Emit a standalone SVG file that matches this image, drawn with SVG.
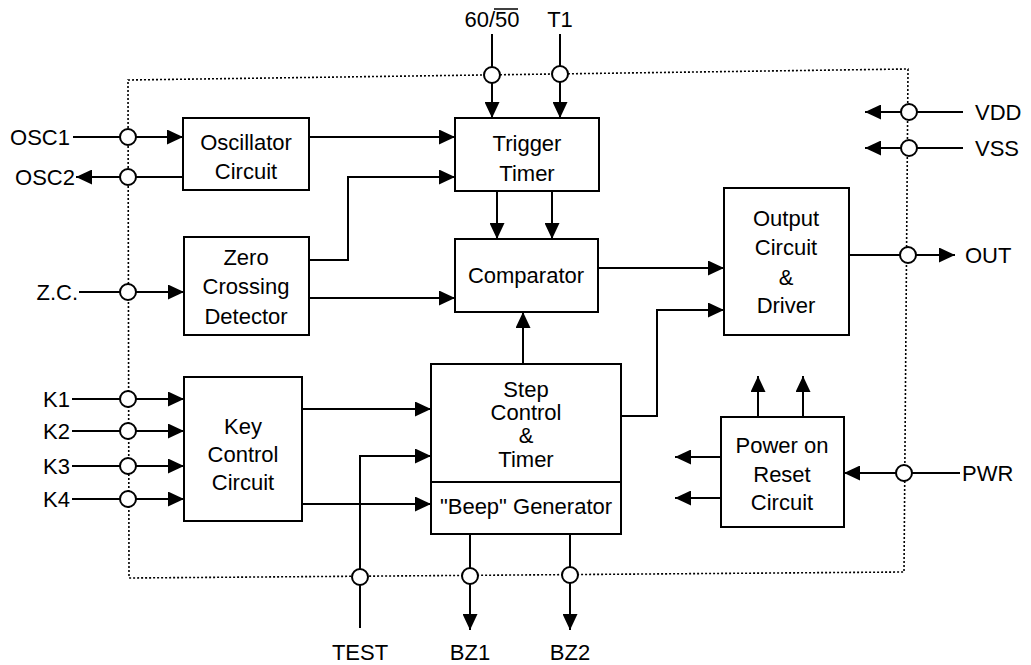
<svg xmlns="http://www.w3.org/2000/svg" width="1031" height="665" viewBox="0 0 1031 665">
<defs>
<marker id="arr" markerUnits="userSpaceOnUse" markerWidth="17" markerHeight="15" refX="16" refY="7.5" orient="auto">
<path d="M0,0 L16,7.5 L0,15 z" fill="#000"/>
</marker>
<style>
.bx{fill:#fff;stroke:#000;stroke-width:2}
.ln{fill:none;stroke:#000;stroke-width:2}
.ar{fill:none;stroke:#000;stroke-width:2;marker-end:url(#arr)}
.pin{fill:#fff;stroke:#000;stroke-width:2}
.fr{fill:none;stroke:#000;stroke-width:1.6;stroke-dasharray:2 2}
text{font-family:"Liberation Sans",Arial,sans-serif;font-size:22px;fill:#000}
.c{text-anchor:middle}
.e{text-anchor:end}
</style>
</defs>
<rect width="1031" height="665" fill="#fff"/>
<g id="frame">
<path class="fr" d="M128,80 L908,69 L904,572 L129,578 Z"/>
</g>
<g id="connectors">
<line class="ar" x1="73" y1="137" x2="183" y2="137"/>
<line class="ar" x1="183" y1="177" x2="76" y2="177"/>
<line class="ar" x1="309" y1="137" x2="455" y2="137"/>
<polyline class="ar" points="309,260 348,260 348,177 455,177"/>
<line class="ar" x1="492" y1="34" x2="492" y2="118"/>
<line class="ar" x1="560" y1="34" x2="560" y2="118"/>
<line class="ar" x1="497" y1="191" x2="497" y2="239"/>
<line class="ar" x1="552" y1="191" x2="552" y2="239"/>
<line class="ar" x1="79" y1="292" x2="184" y2="292"/>
<line class="ar" x1="309" y1="298" x2="455" y2="298"/>
<line class="ar" x1="598" y1="268" x2="724" y2="268"/>
<line class="ar" x1="523" y1="364" x2="523" y2="312"/>
<polyline class="ar" points="621,416 657,416 657,310 724,310"/>
<line class="ar" x1="72" y1="399" x2="184" y2="399"/>
<line class="ar" x1="72" y1="431" x2="184" y2="431"/>
<line class="ar" x1="72" y1="466" x2="184" y2="466"/>
<line class="ar" x1="72" y1="499" x2="184" y2="499"/>
<line class="ar" x1="302" y1="409" x2="431" y2="409"/>
<line class="ar" x1="302" y1="504" x2="431" y2="504"/>
<polyline class="ar" points="360,628 360,456 431,456"/>
<line class="ar" x1="470" y1="534" x2="470" y2="630"/>
<line class="ar" x1="570" y1="534" x2="570" y2="630"/>
<line class="ar" x1="963" y1="112" x2="865" y2="112"/>
<line class="ar" x1="963" y1="148" x2="865" y2="148"/>
<line class="ar" x1="849" y1="255" x2="955" y2="255"/>
<line class="ar" x1="758" y1="417" x2="758" y2="376"/>
<line class="ar" x1="803" y1="417" x2="803" y2="376"/>
<line class="ar" x1="721" y1="457" x2="675" y2="457"/>
<line class="ar" x1="721" y1="498" x2="675" y2="498"/>
<line class="ar" x1="960" y1="473" x2="844" y2="473"/>
</g>
<g id="pins">
<circle class="pin" cx="128" cy="137" r="8"/>
<circle class="pin" cx="128" cy="177" r="8"/>
<circle class="pin" cx="128" cy="292" r="8"/>
<circle class="pin" cx="128" cy="399" r="8"/>
<circle class="pin" cx="128" cy="431" r="8"/>
<circle class="pin" cx="128" cy="466" r="8"/>
<circle class="pin" cx="128" cy="499" r="8"/>
<circle class="pin" cx="492" cy="75" r="8"/>
<circle class="pin" cx="560" cy="74" r="8"/>
<circle class="pin" cx="909" cy="112" r="8"/>
<circle class="pin" cx="909" cy="148" r="8"/>
<circle class="pin" cx="908" cy="255" r="8"/>
<circle class="pin" cx="904" cy="473" r="8"/>
<circle class="pin" cx="360" cy="577" r="8"/>
<circle class="pin" cx="470" cy="576" r="8"/>
<circle class="pin" cx="570" cy="575" r="8"/>
</g>
<g id="oscillator">
<rect class="bx" x="183" y="118" width="126" height="72"/>
<text class="c" x="246" y="150">Oscillator</text>
<text class="c" x="246" y="179">Circuit</text>
</g>
<g id="trigger">
<rect class="bx" x="455" y="118" width="144" height="73"/>
<text class="c" x="527" y="151">Trigger</text>
<text class="c" x="527" y="181">Timer</text>
</g>
<g id="zero">
<rect class="bx" x="184" y="237" width="125" height="98"/>
<text class="c" x="246" y="265">Zero</text>
<text class="c" x="246" y="294">Crossing</text>
<text class="c" x="246" y="324">Detector</text>
</g>
<g id="comparator">
<rect class="bx" x="455" y="239" width="143" height="73"/>
<text class="c" x="526" y="283">Comparator</text>
</g>
<g id="output">
<rect class="bx" x="724" y="188" width="125" height="147"/>
<text class="c" x="786" y="226">Output</text>
<text class="c" x="786" y="255">Circuit</text>
<text class="c" x="786" y="285">&amp;</text>
<text class="c" x="786" y="313">Driver</text>
</g>
<g id="key">
<rect class="bx" x="184" y="377" width="118" height="144"/>
<text class="c" x="243" y="434">Key</text>
<text class="c" x="243" y="462">Control</text>
<text class="c" x="243" y="490">Circuit</text>
</g>
<g id="step">
<rect class="bx" x="431" y="364" width="190" height="170"/>
<line class="ln" x1="431" y1="482" x2="621" y2="482"/>
<text class="c" x="526" y="397">Step</text>
<text class="c" x="526" y="420">Control</text>
<text class="c" x="526" y="443">&amp;</text>
<text class="c" x="526" y="467">Timer</text>
<text class="c" x="526" y="514">"Beep" Generator</text>
</g>
<g id="power">
<rect class="bx" x="721" y="417" width="123" height="110"/>
<text class="c" x="782" y="453">Power on</text>
<text class="c" x="782" y="482">Reset</text>
<text class="c" x="782" y="510">Circuit</text>
</g>
<g id="labels">
<text class="e" x="70" y="145">OSC1</text>
<text class="e" x="75" y="185">OSC2</text>
<text class="e" x="78" y="300">Z.C.</text>
<text class="e" x="70" y="407">K1</text>
<text class="e" x="70" y="439">K2</text>
<text class="e" x="70" y="474">K3</text>
<text class="e" x="70" y="507">K4</text>
<text class="c" x="492" y="27">60/50</text>
<line x1="494" y1="9" x2="518" y2="9" stroke="#000" stroke-width="1.5"/>
<text class="c" x="560" y="27">T1</text>
<text x="975" y="120">VDD</text>
<text x="975" y="156">VSS</text>
<text x="965" y="263">OUT</text>
<text x="962" y="481">PWR</text>
<text class="c" x="360" y="660">TEST</text>
<text class="c" x="470" y="660">BZ1</text>
<text class="c" x="570" y="660">BZ2</text>
</g>
</svg>
